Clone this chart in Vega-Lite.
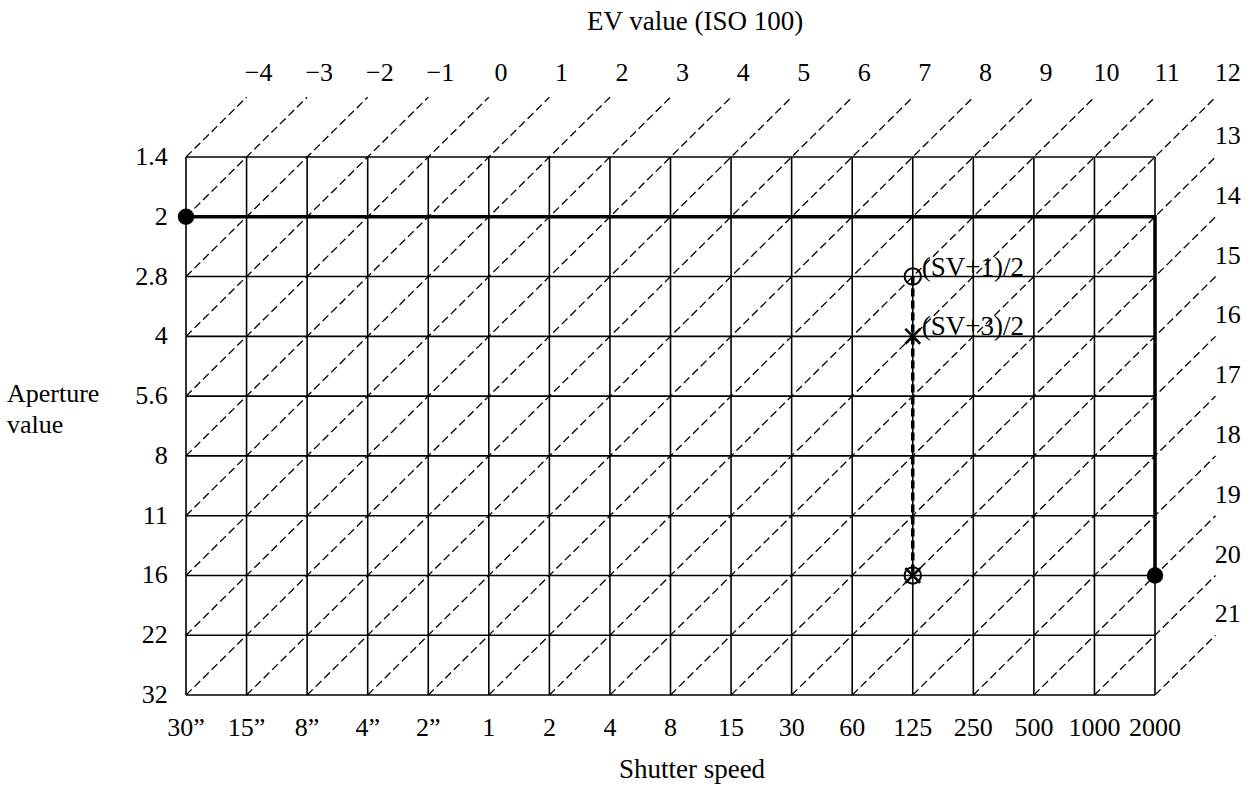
{
  "$schema": "https://vega.github.io/schema/vega-lite/v6.json",
  "width": 1252,
  "height": 788,
  "autosize": {"type": "none"},
  "padding": 0,
  "background": "white",
  "config": {"view": {"stroke": null}, "font": "Liberation Serif"},
  "datasets": {
    "grid": [
      {"i": 0, "j": 0, "i2": 0, "j2": 9}, {"i": 1, "j": 0, "i2": 1, "j2": 9}, {"i": 2, "j": 0, "i2": 2, "j2": 9},
      {"i": 3, "j": 0, "i2": 3, "j2": 9}, {"i": 4, "j": 0, "i2": 4, "j2": 9}, {"i": 5, "j": 0, "i2": 5, "j2": 9},
      {"i": 6, "j": 0, "i2": 6, "j2": 9}, {"i": 7, "j": 0, "i2": 7, "j2": 9}, {"i": 8, "j": 0, "i2": 8, "j2": 9},
      {"i": 9, "j": 0, "i2": 9, "j2": 9}, {"i": 10, "j": 0, "i2": 10, "j2": 9}, {"i": 11, "j": 0, "i2": 11, "j2": 9},
      {"i": 12, "j": 0, "i2": 12, "j2": 9}, {"i": 13, "j": 0, "i2": 13, "j2": 9}, {"i": 14, "j": 0, "i2": 14, "j2": 9},
      {"i": 15, "j": 0, "i2": 15, "j2": 9}, {"i": 16, "j": 0, "i2": 16, "j2": 9},
      {"i": 0, "j": 0, "i2": 16, "j2": 0}, {"i": 0, "j": 1, "i2": 16, "j2": 1}, {"i": 0, "j": 2, "i2": 16, "j2": 2},
      {"i": 0, "j": 3, "i2": 16, "j2": 3}, {"i": 0, "j": 4, "i2": 16, "j2": 4}, {"i": 0, "j": 5, "i2": 16, "j2": 5},
      {"i": 0, "j": 6, "i2": 16, "j2": 6}, {"i": 0, "j": 7, "i2": 16, "j2": 7}, {"i": 0, "j": 8, "i2": 16, "j2": 8},
      {"i": 0, "j": 9, "i2": 16, "j2": 9}
    ],
    "diag": [
      {"i": 0, "j": 0, "i2": 1, "j2": -1}, {"i": 0, "j": 1, "i2": 2, "j2": -1}, {"i": 0, "j": 2, "i2": 3, "j2": -1},
      {"i": 0, "j": 3, "i2": 4, "j2": -1}, {"i": 0, "j": 4, "i2": 5, "j2": -1}, {"i": 0, "j": 5, "i2": 6, "j2": -1},
      {"i": 0, "j": 6, "i2": 7, "j2": -1}, {"i": 0, "j": 7, "i2": 8, "j2": -1}, {"i": 0, "j": 8, "i2": 9, "j2": -1},
      {"i": 0, "j": 9, "i2": 10, "j2": -1}, {"i": 1, "j": 9, "i2": 11, "j2": -1}, {"i": 2, "j": 9, "i2": 12, "j2": -1},
      {"i": 3, "j": 9, "i2": 13, "j2": -1}, {"i": 4, "j": 9, "i2": 14, "j2": -1}, {"i": 5, "j": 9, "i2": 15, "j2": -1},
      {"i": 6, "j": 9, "i2": 16, "j2": -1}, {"i": 7, "j": 9, "i2": 17, "j2": -1}, {"i": 8, "j": 9, "i2": 17, "j2": 0},
      {"i": 9, "j": 9, "i2": 17, "j2": 1}, {"i": 10, "j": 9, "i2": 17, "j2": 2}, {"i": 11, "j": 9, "i2": 17, "j2": 3},
      {"i": 12, "j": 9, "i2": 17, "j2": 4}, {"i": 13, "j": 9, "i2": 17, "j2": 5}, {"i": 14, "j": 9, "i2": 17, "j2": 6},
      {"i": 15, "j": 9, "i2": 17, "j2": 7}, {"i": 16, "j": 9, "i2": 17, "j2": 8}
    ],
    "prog": [
      {"k": 0, "i": 0, "j": 1}, {"k": 1, "i": 16, "j": 1}, {"k": 2, "i": 16, "j": 7}
    ],
    "sv": [{"i": 12, "j": 2, "i2": 12, "j2": 7}],
    "dots": [{"i": 0, "j": 1}, {"i": 16, "j": 7}],
    "rings": [{"i": 12, "j": 2}, {"i": 12, "j": 7}],
    "crosses": [{"i": 12, "j": 3}, {"i": 12, "j": 7}],
    "evlab": [
      {"i": 1.2, "j": -1.4, "t": "−4"}, {"i": 2.2, "j": -1.4, "t": "−3"}, {"i": 3.2, "j": -1.4, "t": "−2"},
      {"i": 4.2, "j": -1.4, "t": "−1"}, {"i": 5.2, "j": -1.4, "t": "0"}, {"i": 6.2, "j": -1.4, "t": "1"},
      {"i": 7.2, "j": -1.4, "t": "2"}, {"i": 8.2, "j": -1.4, "t": "3"}, {"i": 9.2, "j": -1.4, "t": "4"},
      {"i": 10.2, "j": -1.4, "t": "5"}, {"i": 11.2, "j": -1.4, "t": "6"}, {"i": 12.2, "j": -1.4, "t": "7"},
      {"i": 13.2, "j": -1.4, "t": "8"}, {"i": 14.2, "j": -1.4, "t": "9"}, {"i": 15.2, "j": -1.4, "t": "10"},
      {"i": 16.2, "j": -1.4, "t": "11"}, {"i": 17.2, "j": -1.4, "t": "12"},
      {"i": 17.2, "j": -0.35, "t": "13"}, {"i": 17.2, "j": 0.65, "t": "14"}, {"i": 17.2, "j": 1.65, "t": "15"},
      {"i": 17.2, "j": 2.65, "t": "16"}, {"i": 17.2, "j": 3.65, "t": "17"}, {"i": 17.2, "j": 4.65, "t": "18"},
      {"i": 17.2, "j": 5.65, "t": "19"}, {"i": 17.2, "j": 6.65, "t": "20"}, {"i": 17.2, "j": 7.65, "t": "21"}
    ],
    "ylab": [
      {"i": -0.3, "j": 0, "t": "1.4"}, {"i": -0.3, "j": 1, "t": "2"}, {"i": -0.3, "j": 2, "t": "2.8"},
      {"i": -0.3, "j": 3, "t": "4"}, {"i": -0.3, "j": 4, "t": "5.6"}, {"i": -0.3, "j": 5, "t": "8"},
      {"i": -0.3, "j": 6, "t": "11"}, {"i": -0.3, "j": 7, "t": "16"}, {"i": -0.3, "j": 8, "t": "22"},
      {"i": -0.3, "j": 9, "t": "32"}
    ],
    "xlab": [
      {"i": 0, "j": 9.55, "t": "30”"}, {"i": 1, "j": 9.55, "t": "15”"}, {"i": 2, "j": 9.55, "t": "8”"},
      {"i": 3, "j": 9.55, "t": "4”"}, {"i": 4, "j": 9.55, "t": "2”"}, {"i": 5, "j": 9.55, "t": "1"},
      {"i": 6, "j": 9.55, "t": "2"}, {"i": 7, "j": 9.55, "t": "4"}, {"i": 8, "j": 9.55, "t": "8"},
      {"i": 9, "j": 9.55, "t": "15"}, {"i": 10, "j": 9.55, "t": "30"}, {"i": 11, "j": 9.55, "t": "60"},
      {"i": 12, "j": 9.55, "t": "125"}, {"i": 13, "j": 9.55, "t": "250"}, {"i": 14, "j": 9.55, "t": "500"},
      {"i": 15, "j": 9.55, "t": "1000"}, {"i": 16, "j": 9.55, "t": "2000"}
    ],
    "svlab": [{"i": 12, "j": 2, "t": "(SV+1)/2"}, {"i": 12, "j": 3, "t": "(SV+3)/2"}],
    "ctitles": [
      {"i": 8.405, "j": -2.26, "t": "EV value (ISO 100)"},
      {"i": 8.355, "j": 10.254, "t": "Shutter speed"}
    ],
    "ltitles": [
      {"i": -2.956, "j": 4.1, "t": "Aperture"},
      {"i": -2.956, "j": 4.62, "t": "value"}
    ]
  },
  "encoding": {
    "x": {"field": "i", "type": "quantitative", "scale": {"domain": [-3.0713, 17.6015], "nice": false, "zero": false}, "axis": null},
    "y": {"field": "j", "type": "quantitative", "scale": {"domain": [-2.6263, 10.5553], "nice": false, "zero": false, "reverse": true}, "axis": null}
  },
  "layer": [
    {
      "data": {"name": "grid"},
      "mark": {"type": "rule", "stroke": "#000", "strokeWidth": 1.6},
      "encoding": {"x2": {"field": "i2"}, "y2": {"field": "j2"}}
    },
    {
      "data": {"name": "diag"},
      "mark": {"type": "rule", "stroke": "#000", "strokeWidth": 1.3, "strokeDash": [8, 4]},
      "encoding": {"x2": {"field": "i2"}, "y2": {"field": "j2"}}
    },
    {
      "data": {"name": "prog"},
      "mark": {"type": "line", "stroke": "#000", "strokeWidth": 3.5, "strokeJoin": "miter"},
      "encoding": {"order": {"field": "k", "type": "quantitative"}}
    },
    {
      "data": {"name": "sv"},
      "mark": {"type": "rule", "stroke": "#000", "strokeWidth": 3.5, "strokeDash": [8, 4]},
      "encoding": {"x2": {"field": "i2"}, "y2": {"field": "j2"}}
    },
    {
      "data": {"name": "dots"},
      "mark": {"type": "point", "shape": "circle", "filled": true, "fill": "#000", "size": 270, "opacity": 1}
    },
    {
      "data": {"name": "rings"},
      "mark": {"type": "point", "shape": "circle", "filled": false, "stroke": "#000", "strokeWidth": 2, "size": 270, "opacity": 1}
    },
    {
      "data": {"name": "crosses"},
      "mark": {"type": "point", "shape": "M-1,-1L1,1M-1,1L1,-1", "filled": false, "stroke": "#000", "strokeWidth": 2.6, "size": 220, "opacity": 1}
    },
    {
      "data": {"name": "evlab"},
      "mark": {"type": "text", "align": "center", "baseline": "middle", "fontSize": 26, "fill": "#000"},
      "encoding": {"text": {"field": "t"}}
    },
    {
      "data": {"name": "ylab"},
      "mark": {"type": "text", "align": "right", "baseline": "middle", "fontSize": 26, "fill": "#000"},
      "encoding": {"text": {"field": "t"}}
    },
    {
      "data": {"name": "xlab"},
      "mark": {"type": "text", "align": "center", "baseline": "middle", "fontSize": 26, "fill": "#000"},
      "encoding": {"text": {"field": "t"}}
    },
    {
      "data": {"name": "svlab"},
      "mark": {"type": "text", "align": "left", "baseline": "alphabetic", "dx": 9, "dy": -1, "fontSize": 27, "fill": "#000"},
      "encoding": {"text": {"field": "t"}}
    },
    {
      "data": {"name": "ctitles"},
      "mark": {"type": "text", "align": "center", "baseline": "middle", "fontSize": 27, "fill": "#000"},
      "encoding": {"text": {"field": "t"}}
    },
    {
      "data": {"name": "ltitles"},
      "mark": {"type": "text", "align": "left", "baseline": "alphabetic", "fontSize": 26, "fill": "#000"},
      "encoding": {"text": {"field": "t"}}
    }
  ]
}
